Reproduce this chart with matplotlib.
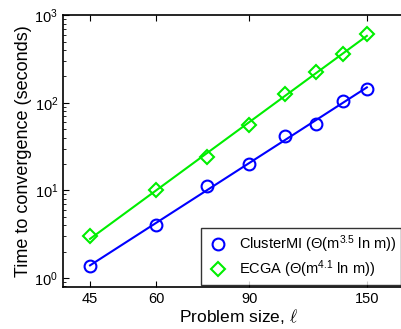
import numpy as np
from matplotlib import pyplot as plt
from matplotlib.ticker import FixedLocator, NullLocator, LogLocator

plt.rcParams['font.family'] = ['Liberation Sans', 'DejaVu Sans']
plt.rcParams['mathtext.fontset'] = 'custom'
plt.rcParams['mathtext.rm'] = 'Liberation Sans'
plt.rcParams['mathtext.it'] = 'Liberation Sans:italic'
plt.rcParams['mathtext.default'] = 'regular'

# problem sizes and run times
sizes = [45, 60, 75, 90, 105, 120, 135, 150]
clustermi_time = [1.37, 4.0, 11.2, 19.9, 41.6, 57, 104, 143]
ecga_time = [3.0, 10.1, 24, 55.6, 125, 223, 358, 606]
xtick_vals = [45, 60, 90, 150]

fig = plt.figure(figsize=(4.01, 3.29), dpi=100)
ax = fig.add_axes([0.157, 0.128, 0.875, 0.826])

x = np.array(sizes, dtype=float)
for y, col, mk, lab in [
        (clustermi_time, 'blue', 'o', r'ClusterMI ($\Theta$(m$^{3.5}$ ln m))'),
        (ecga_time, '#00ee00', 'D', r'ECGA ($\Theta$(m$^{4.1}$ ln m))')]:
    # straight fit line in log-log space through the measured points
    k, b = np.polyfit(np.log10(x), np.log10(y), 1)
    ax.plot(x, 10 ** (b + k * np.log10(x)), color=col, lw=1.5)
    ms = 8.5 if mk == 'o' else 7.5
    ax.plot(x, y, mk, color=col, mfc='none', mew=1.5, ms=ms, label=lab)

ax.set_xscale('log')
ax.set_yscale('log')
ax.set_xlim(40, 184)
ax.set_ylim(0.79, 1000)
ax.xaxis.set_major_locator(FixedLocator(xtick_vals))
ax.xaxis.set_minor_locator(NullLocator())
ax.set_xticklabels([str(v) for v in xtick_vals])
ax.yaxis.set_major_locator(LogLocator(base=10, numticks=10))
ax.yaxis.set_minor_locator(LogLocator(base=10, subs=np.arange(2, 10), numticks=10))

ax.tick_params(which='both', direction='in', top=True, right=True, labelsize=10.5)
ax.tick_params(which='major', length=4)
ax.tick_params(which='minor', length=2)
for s in ax.spines.values():
    s.set_linewidth(1.2)

ax.set_xlabel(r'Problem size, $\mathit{\ell}$', fontsize=12.5, labelpad=1,
              math_fontfamily='cm')
ax.set_ylabel('Time to convergence (seconds)', fontsize=13, labelpad=2)

leg = ax.legend(loc='lower right', bbox_to_anchor=(401 / 401, (329 - 285) / 329),
                bbox_transform=fig.transFigure, fontsize=10.5, frameon=True,
                fancybox=False, edgecolor='black', borderpad=0.35,
                handletextpad=0.6, labelspacing=0.25, handlelength=1.6,
                borderaxespad=0)
leg.get_frame().set_linewidth(1.0)

fig.savefig('out.png', dpi=100)
